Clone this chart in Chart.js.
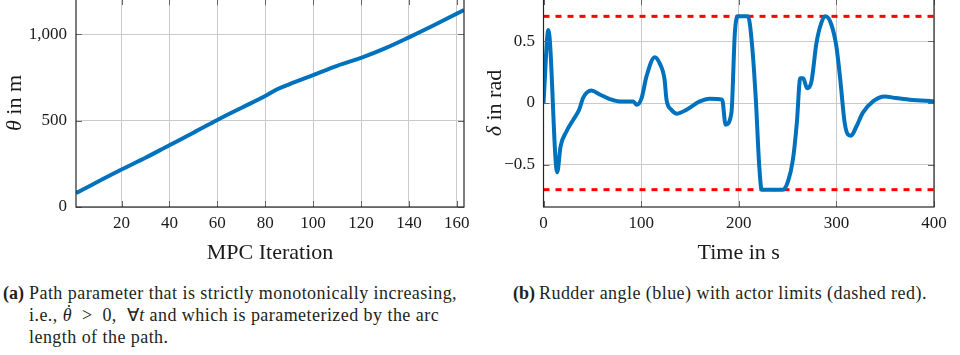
<!DOCTYPE html>
<html>
<head>
<meta charset="utf-8">
<script src="https://cdn.jsdelivr.net/npm/chart.js@4"></script>
<style>
  html, body { margin: 0; padding: 0; background: #fff; }
  body { width: 960px; height: 355px; position: relative; overflow: hidden; }
  .plot { position: absolute; top: -1px; width: 480px; height: 271px; }
  .caption {
    position: absolute; top: 282px;
    font-family: "Liberation Serif", serif; font-size: 18px; line-height: 22px; letter-spacing: 0.45px;
    color: #231f20; padding-left: 26px; text-indent: -26px; white-space: nowrap;
  }
  .caption .tag { display: inline-block; width: 26px; text-indent: 0; font-weight: bold; letter-spacing: 0; }
  .dot { position: relative; display: inline-block; text-indent: 0; }
  .dot::after {
    content: ""; position: absolute; left: 5px; top: 1px;
    width: 2.4px; height: 2.4px; border-radius: 50%; background: #231f20;
  }
</style>
</head>
<body>
<div class="plot" style="left:0"><canvas id="pathChart" width="480" height="271"></canvas></div>
<div class="plot" style="left:480px"><canvas id="rudderChart" width="480" height="271"></canvas></div>

<div class="caption" style="left:3px"><span class="tag">(a)</span>Path parameter that is strictly monotonically increasing,<br>i.e., <i class="dot">θ</i>&nbsp; &gt; &nbsp;0, &nbsp;∀<i>t</i> and which is parameterized by the arc<br>length of the path.</div>
<div class="caption" style="left:513px"><span class="tag">(b)</span>Rudder angle (blue) with actor limits (dashed red).</div>

<script>
// path parameter theta over the MPC iterations
const iterations = [1, 20, 30, 40, 50, 60, 70, 80, 85, 90, 100, 110, 120, 130, 140, 150, 163];
const theta = [81, 217, 285, 358, 430, 504, 574, 643, 682, 711, 764, 818, 864, 919, 983, 1050, 1141];
const iterTicks = [20, 40, 60, 80, 100, 120, 140, 160];
const thetaTicks = [0, 500, 1000];

// rudder angle delta over time
const times = [0, 5, 14, 17.5, 23.5, 30.5, 36.5, 40.5, 49, 58, 68, 78, 92, 95.5, 100.5, 105.5, 114, 119, 124, 126,
  131, 137, 146.5, 160, 170, 183, 186.5, 192.5, 196, 199, 209.5, 213.5, 217.5, 221, 223.5, 245, 250.5, 255.5,
  259.5, 263, 266, 270, 274.5, 279.5, 284.5, 289, 295, 300, 304, 308.5, 312, 315, 320.5, 327, 337.5, 349.5,
  361, 375, 400];
const delta = [0, 0.59, -0.56, -0.35, -0.23, -0.135, -0.055, 0.04, 0.10, 0.067, 0.032, 0.013, 0.013, -0.014,
  0.04, 0.215, 0.37, 0.32, 0.19, 0.027, -0.054, -0.086, -0.054, 0.013, 0.035, 0.027, -0.175, -0.08, 0.565,
  0.70, 0.70, 0.48, 0.027, -0.51, -0.70, -0.70, -0.632, -0.457, -0.16, 0.20, 0.20, 0.12, 0.175, 0.48, 0.645,
  0.70, 0.63, 0.457, 0.188, -0.16, -0.256, -0.264, -0.19, -0.08, 0.013, 0.053, 0.04, 0.027, 0.013];
const actorLimits = [0.7, -0.7];
const timeTicks = [0, 100, 200, 300, 400];
const deltaTicks = [-0.5, 0, 0.5];

const BLUE = "#0072bd";
const serif = "'Liberation Serif', 'Times New Roman', serif";

// full box around the plot area plus small inward tick marks
const framePlugin = {
  id: "frame",
  afterDraw(chart) {
    const { ctx, chartArea: a, scales } = chart;
    ctx.save();
    ctx.strokeStyle = "#666";
    ctx.lineWidth = 1;
    ctx.beginPath();
    scales.x.ticks.forEach((t) => {
      const px = Math.round(scales.x.getPixelForValue(t.value)) + 0.5;
      ctx.moveTo(px, a.bottom); ctx.lineTo(px, a.bottom - 6);
      ctx.moveTo(px, a.top); ctx.lineTo(px, a.top + 6);
    });
    scales.y.ticks.forEach((t) => {
      const py = Math.round(scales.y.getPixelForValue(t.value)) + 0.5;
      ctx.moveTo(a.left, py); ctx.lineTo(a.left + 6, py);
      ctx.moveTo(a.right, py); ctx.lineTo(a.right - 6, py);
    });
    ctx.stroke();
    ctx.strokeStyle = "#262626";
    ctx.lineWidth = 1.2;
    ctx.strokeRect(a.left, a.top, a.right - a.left, a.bottom - a.top);

    // rotated y label: italic symbol followed by upright text
    const lbl = chart.options.plugins.frame;
    const sym = "italic 22px " + serif, rest = "22px " + serif;
    ctx.font = sym;
    const w1 = ctx.measureText(lbl.symbol).width;
    ctx.font = rest;
    const w2 = ctx.measureText(lbl.text).width;
    ctx.translate(15.5, (a.top + a.bottom) / 2);
    ctx.rotate(-Math.PI / 2);
    ctx.fillStyle = "#1a1a1a";
    ctx.textBaseline = "middle";
    ctx.textAlign = "left";
    ctx.font = sym;
    ctx.fillText(lbl.symbol, -(w1 + w2) / 2, 0);
    ctx.font = rest;
    ctx.fillText(lbl.text, -(w1 + w2) / 2 + w1, 0);
    ctx.restore();
  },
};

function axis(min, max, tickValues, fmt, title, size, tickPad) {
  return {
    type: "linear",
    min: min,
    max: max,
    afterBuildTicks: (s) => { s.ticks = tickValues.map((v) => ({ value: v })); },
    afterFit: (s) => {
      if (s.isHorizontal()) s.height = 63; else s.width = size;
      s.paddingTop = s.paddingBottom = s.paddingLeft = s.paddingRight = 0;
    },
    grid: { color: "#cacaca", lineWidth: 1, drawTicks: false },
    border: { display: false },
    ticks: { color: "#1a1a1a", font: { family: serif, size: 17 }, padding: tickPad, callback: fmt },
    title: { display: !!title, text: title, color: "#1a1a1a", font: { family: serif, size: 22, lineHeight: 1 }, padding: { top: 0, bottom: 6 } },
  };
}

function points(xs, ys) {
  return xs.map((x, i) => ({ x: x, y: ys[i] }));
}

// (a) path parameter
new Chart(document.getElementById("pathChart"), {
  type: "line",
  data: {
    datasets: [{
      data: points(iterations, theta),
      borderColor: BLUE,
      borderWidth: 4,
      pointRadius: 0,
      cubicInterpolationMode: "monotone",
    }],
  },
  options: {
    responsive: false,
    animation: false,
    layout: { padding: { top: 0, right: 16, left: 0, bottom: 0 } },
    plugins: { legend: { display: false }, tooltip: { enabled: false }, frame: { symbol: "θ", text: " in m" } },
    scales: {
      x: axis(1, 163, iterTicks, (v) => v, "MPC Iteration", 0, 6),
      y: axis(0, 1205, thetaTicks, (v) => v.toLocaleString("en-US"), "", 76, 9),
    },
  },
  plugins: [framePlugin],
});

// (b) rudder angle with actor limits
new Chart(document.getElementById("rudderChart"), {
  type: "line",
  data: {
    datasets: [
      {
        data: points(times, delta),
        borderColor: BLUE,
        borderWidth: 4,
        pointRadius: 0,
        cubicInterpolationMode: "monotone",
        order: 0,
      },
      ...actorLimits.map((lim) => ({
        data: [{ x: 0, y: lim }, { x: 400, y: lim }],
        borderColor: "#ff0000",
        borderWidth: 3,
        borderDash: [6, 6],
        pointRadius: 0,
        order: 1,
      })),
    ],
  },
  options: {
    responsive: false,
    animation: false,
    layout: { padding: { top: 0, right: 26, left: 0, bottom: 0 } },
    plugins: { legend: { display: false }, tooltip: { enabled: false }, frame: { symbol: "δ", text: " in rad" } },
    scales: {
      x: axis(0, 400, timeTicks, (v) => v, "Time in s", 0, 6),
      y: axis(-0.84, 0.84, deltaTicks, (v) => (v < 0 ? "\u2212" + Math.abs(v) : String(v)), "", 63.5, 8.5),
    },
  },
  plugins: [framePlugin],
});
</script>
</body>
</html>
